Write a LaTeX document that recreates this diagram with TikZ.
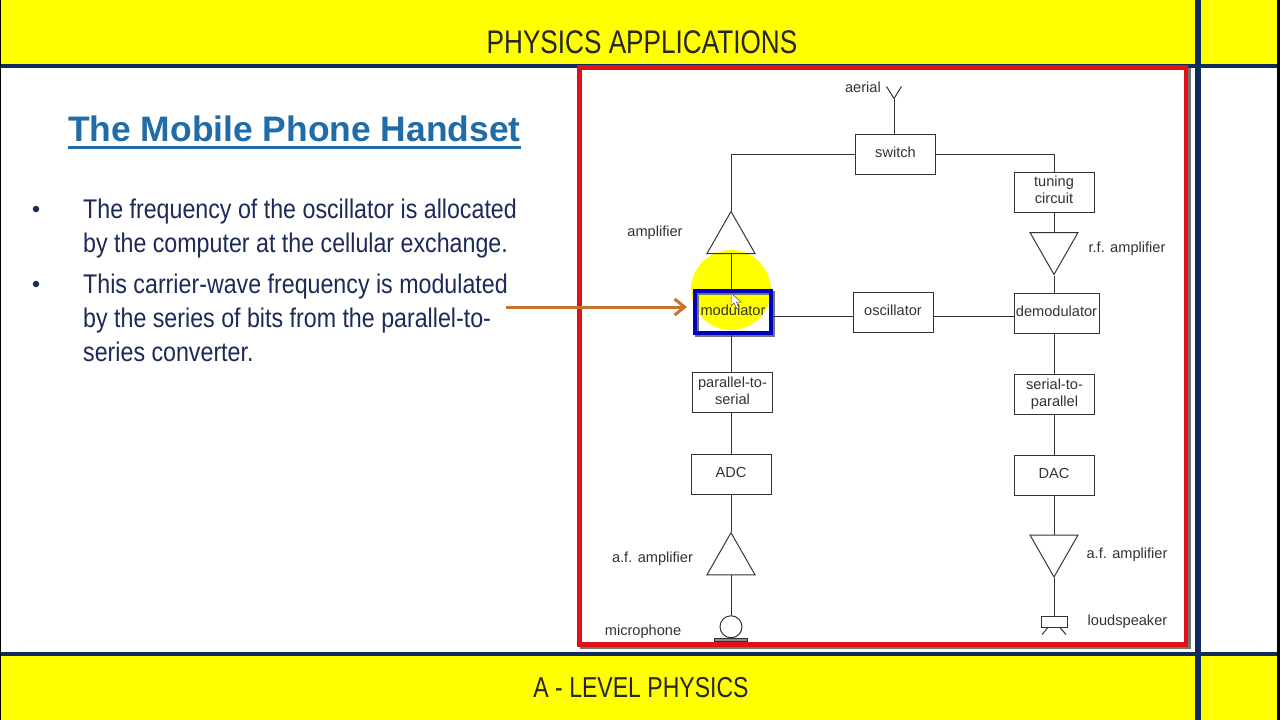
\documentclass[tikz,border=0pt]{standalone}
\usepackage{fontspec}
\setmainfont{Liberation Sans}
\newfontfamily\narrowfont[FakeStretch=0.86]{Liberation Sans}
\newfontfamily\bandfont[FakeStretch=0.8]{Liberation Sans}
\usetikzlibrary{positioning, arrows.meta, shapes.geometric}
\definecolor{bandyellow}{HTML}{FFFF00}
\definecolor{navyline}{HTML}{0F2A5F}
\definecolor{titleblue}{HTML}{1F6CA8}
\definecolor{bodynavy}{HTML}{1B2A58}
\definecolor{framered}{HTML}{E01018}
\definecolor{pointerorange}{HTML}{C8732B}
\definecolor{inkgray}{HTML}{333333}

\begin{document}
\begin{tikzpicture}[
    x=1pt, y=-1pt,
    band/.style={fill=bandyellow, draw=none},
    rule/.style={fill=navyline, draw=none},
    bandtext/.style={font=\bandfont\fontsize{32.7}{36}\selectfont, text=black!85, inner sep=0},
    bodytext/.style={font=\narrowfont\fontsize{27}{34.3}\selectfont, text=bodynavy, align=left, inner sep=0, anchor=north west},
    dot/.style={circle, fill=bodynavy, minimum size=6.5pt, inner sep=0},
    wire/.style={draw=inkgray, line width=1pt},
    box/.style={draw=inkgray, line width=1pt, minimum width=80pt, minimum height=40pt, inner sep=0, align=center, text=inkgray, text depth=4pt, font=\fontsize{14.6}{17}\selectfont},
    amp/.style={draw=inkgray, line width=1pt, isosceles triangle, isosceles triangle stretches, isosceles triangle apex angle=60, minimum width=48pt, minimum height=42pt, inner sep=0},
    label/.style={text=inkgray, font=\fontsize{14.6}{17}\selectfont, inner sep=0}
]
\useasboundingbox (0,0) rectangle (1280,720);
\fill[white] (0,0) rectangle (1280,720);

% Bands and rules
\fill[band] (0,0) rectangle (1195,64);
\fill[band] (1201,0) rectangle (1277,64);
\fill[band] (0,655) rectangle (1195,720);
\fill[band] (1201,655) rectangle (1277,720);
\fill[rule] (0,64) rectangle (1277,68);
\fill[rule] (0,651.5) rectangle (1277,655.5);
\fill[rule] (1195,0) rectangle (1201,720);
\fill[black] (1277,0) rectangle (1280,720);
\fill[black] (0,0) rectangle (1,720);

\node[bandtext] (header) at (642,42) {PHYSICS APPLICATIONS};
\node[bandtext, font=\bandfont\fontsize{28.8}{32}\selectfont] (footer) at (641,688) {A - LEVEL PHYSICS};

% Left text
\node[inner sep=0, anchor=base west, text=titleblue, font=\bfseries\fontsize{35.4}{38}\selectfont] (title) at (68,141.5) {The Mobile Phone Handset};
\draw[titleblue, line width=2.5pt] ([yshift=-6pt]title.base west) -- ([yshift=-6pt]title.base east);

\node[dot] (dota) at (36,209) {};
\node[bodytext] (texta) at (83,198.5) {The frequency of the oscillator is allocated\\by the computer at the cellular exchange.};
\node[dot] (dotb) at (36,284) {};
\node[bodytext] (textb) at (83,273.5) {This carrier-wave frequency is modulated\\by the series of bits from the parallel-to-\\series converter.};

% Red frame with its shadow
\draw[black!55, line width=4.5pt] (582,70) rectangle (1188.5,647);
\fill[white] (582,70) rectangle (1186,644.5);
\draw[framered, line width=4.5pt] (579.5,67.5) rectangle (1186,644.5);

% Highlight behind the modulator
\fill[bandyellow] (731,290) circle (40);

% Top of the chain
\node[box] (switch) at (895.5,154.5) {switch};
\coordinate (aerial) at (894,98.5);
\node[label, anchor=east] (aeriallabel) at (881,87) {aerial};

% Transmit column
\node[box, minimum width=76pt, minimum height=42pt, draw=blue!75!black, line width=4.5pt,
    preaction={draw=black!55, line width=4.5pt, transform canvas={shift={(2pt,-2pt)}}}] (modulator) at (733,312) {modulator};
\node[amp, shape border rotate=90, above=58pt of modulator.center, xshift=-2pt, anchor=lower side] (rfamptx) {};
\node[box, below=36.5pt of modulator, xshift=-0.5pt] (ptos) {parallel-to-\\serial};
\node[box, below=41pt of ptos, xshift=-1.5pt] (adc) {ADC};
\node[amp, shape border rotate=90, below=37pt of adc, anchor=apex] (afamptx) {};
\node[draw=inkgray, line width=1pt, circle, minimum size=22pt, inner sep=0, below=40pt of afamptx.lower side] (mic) {};
\node[draw=inkgray, line width=0.7pt, fill=black!45, minimum width=33pt, minimum height=3pt, inner sep=0, below=0pt of mic] (micbase) {};

% Middle
\node[box] (oscillator) at (893,312.5) {oscillator};

% Receive column
\node[box] (tuning) at (1054,192) {tuning\\circuit};
\node[amp, shape border rotate=270, below=19.5pt of tuning, anchor=lower side] (rfamprx) {};
\node[box, minimum width=85pt] (demod) at (1056.5,313) {demodulator};
\node[box] (stop) at (1054.5,394.5) {serial-to-\\parallel};
\node[box] (dac) at (1054,475) {DAC};
\node[amp, shape border rotate=270, below=39pt of dac, anchor=lower side] (afamprx) {};
\node[draw=inkgray, line width=1pt, minimum width=26pt, minimum height=11pt, inner sep=0] (speaker) at (1054,621.5) {};

% Labels
\node[label] (amplabel) at (655,232.5) {amplifier};
\node[label] (aflabela) at (652.5,558.5) {a.f. amplifier};
\node[label] (miclabel) at (643,631.5) {microphone};
\node[label] (rflabel) at (1127,248.5) {r.f. amplifier};
\node[label] (aflabelb) at (1127,554.5) {a.f. amplifier};
\node[label] (speakerlabel) at (1127.5,621.5) {loudspeaker};

% Connections
\draw[wire] (aerial) -- (aerial |- switch.north);
\draw[wire] (aerial) -- ++(-7.5,-12);
\draw[wire] (aerial) -- ++(7.5,-12);
\draw[wire] (switch.west) -| (rfamptx.apex);
\draw[wire] (switch.east) -| (tuning.north);
\draw[wire] (rfamptx.lower side) -- (rfamptx.lower side |- modulator.north);
\draw[wire] (tuning.south) -- (rfamprx.lower side);
\draw[wire] (rfamprx.apex) -- (rfamprx.apex |- demod.north);
\draw[wire] ([yshift=-3.5pt]oscillator.west -| modulator.east) -- ([yshift=-3.5pt]oscillator.west);
\draw[wire] ([yshift=-3.5pt]oscillator.east) -- ([yshift=-3.5pt]oscillator.east -| demod.west);
\draw[wire] (rfamptx.lower side |- modulator.south) -- (rfamptx.lower side |- ptos.north);
\draw[wire] (adc.north) -- (adc.north |- ptos.south);
\draw[wire] (adc.south) -- (afamptx.apex);
\draw[wire] (afamptx.lower side) -- (mic.north);
\draw[wire] (demod.south -| rfamprx.apex) -- (rfamprx.apex |- stop.north);
\draw[wire] (rfamprx.apex |- stop.south) -- (rfamprx.apex |- dac.north);
\draw[wire] (dac.south) -- (afamprx.lower side);
\draw[wire] (afamprx.apex) -- (speaker.north);
\draw[wire] ([xshift=-6pt]speaker.south) -- ++(-6,7);
\draw[wire] ([xshift=6pt]speaker.south) -- ++(6,7);

% Pointer and cursor
\coordinate (pointerstart) at (506,307);
\coordinate (pointerend) at (687,307);
\draw[pointerorange, line width=3pt, -{Straight Barb[length=10pt, width=16pt, line width=3pt]}] (pointerstart) -- (pointerend);
\draw[black!70, fill=white, line width=0.5pt] (731,293) -- (731,306) -- (734,303) -- (737,309) -- (739,308) -- (736.5,302) -- (741,302) -- cycle;
\end{tikzpicture}
\end{document}
